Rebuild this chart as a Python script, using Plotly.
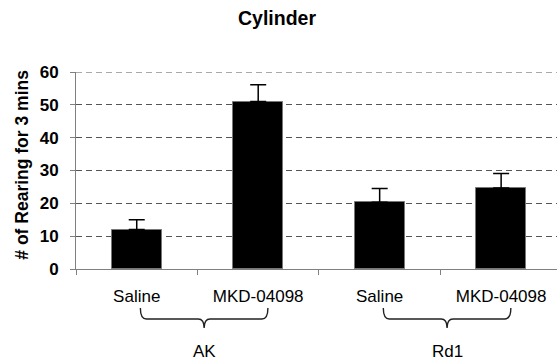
import plotly.graph_objects as go

categories = ["Saline", "MKD-04098", "Saline ", "MKD-04098 "]
tick_text = ["Saline", "MKD-04098", "Saline", "MKD-04098"]
values = [12.0, 51.0, 20.3, 24.7]
errors = [3.0, 5.1, 4.2, 4.4]
groups = ["AK", "Rd1"]
group_members = [(0, 1), (2, 3)]
y_ticks = [0, 10, 20, 30, 40, 50, 60]

W, H = 557, 361
ML, MR, MT, MB = 76, 0, 72, 92
XR = [-0.5, 3.46]
YR = [0, 60]

def xpaper(v):
    return (v - XR[0]) / (XR[1] - XR[0])

def ypaper(px_from_axis):
    # pixels below the x axis -> paper coordinate
    return -px_from_axis / (H - MT - MB)

fig = go.Figure()
fig.add_trace(go.Bar(
    x=list(range(len(categories))),
    y=values,
    width=0.41,
    marker=dict(color="black", line=dict(color="#777777", width=1)),
    error_y=dict(type="data", array=errors, arrayminus=[0] * len(errors),
                 symmetric=False, color="black", thickness=1.5, width=8),
))

font = "Arial, Liberation Sans, sans-serif"
shapes = []
annotations = []
for name, (a, b) in zip(groups, group_members):
    x0 = xpaper(a + 0.03)
    x1 = xpaper(b + 0.08)
    xm = (x0 + x1) / 2
    d = 6 / (W - ML - MR)
    y0, y1, y2 = ypaper(39), ypaper(50), ypaper(59)
    path = (f"M {x0},{y0} Q {x0},{y1} {x0 + d},{y1} L {xm - d},{y1} "
            f"Q {xm},{y1} {xm},{y2} Q {xm},{y1} {xm + d},{y1} "
            f"L {x1 - d},{y1} Q {x1},{y1} {x1},{y0}")
    shapes.append(dict(type="path", xref="paper", yref="paper", path=path,
                       line=dict(color="#222222", width=1.4)))
    annotations.append(dict(text=name, x=xm, y=ypaper(82), xref="paper", yref="paper",
                            showarrow=False, xanchor="center", yanchor="middle",
                            font=dict(family=font, size=17, color="black")))

# top gridline (plotly omits the gridline at the range edge)
shapes.append(dict(type="line", xref="paper", yref="y", x0=0, x1=1,
                   y0=YR[1], y1=YR[1], layer="below",
                   line=dict(color="#555555", width=1, dash="6px,4px")))

annotations.append(dict(text="<b># of Rearing for 3 mins</b>", textangle=-90,
                        x=(22 - ML) / (W - ML - MR), y=(269.3 - 165) / (H - MT - MB),
                        xref="paper", yref="paper", showarrow=False,
                        xanchor="center", yanchor="middle",
                        font=dict(family=font, size=17.5, color="black")))

fig.update_layout(
    width=W, height=H,
    margin=dict(l=ML, r=MR, t=MT, b=MB),
    paper_bgcolor="white", plot_bgcolor="white",
    showlegend=False,
    title=dict(text="<b>Cylinder</b>", x=277 / W, xanchor="center",
               y=1 - 18 / H, yref="container", yanchor="middle",
               font=dict(family=font, size=19.5, color="black")),
    shapes=shapes,
    annotations=annotations,
    xaxis=dict(range=XR, tickmode="array", tickvals=list(range(len(categories))),
               ticktext=tick_text, showgrid=False, showline=True, linecolor="#808080",
               linewidth=1, ticks="", ticklabelstandoff=12,
               minor=dict(tickmode="array", tickvals=[-0.5, 0.5, 1.5, 2.5],
                          ticks="outside", ticklen=5, tickcolor="#808080", showgrid=False),
               tickfont=dict(family=font, size=17, color="black"), zeroline=False),
    yaxis=dict(range=YR, tickvals=y_ticks, showgrid=True, gridcolor="#555555",
               griddash="6px,4px", gridwidth=1, showline=True, linecolor="#808080",
               linewidth=1, ticks="outside", ticklen=5, tickcolor="#808080",
               ticklabelstandoff=8, zeroline=False,
               tickfont=dict(family=font, size=17, color="black", weight="bold")),
    bargap=0,
)

fig.write_html("out.html")
